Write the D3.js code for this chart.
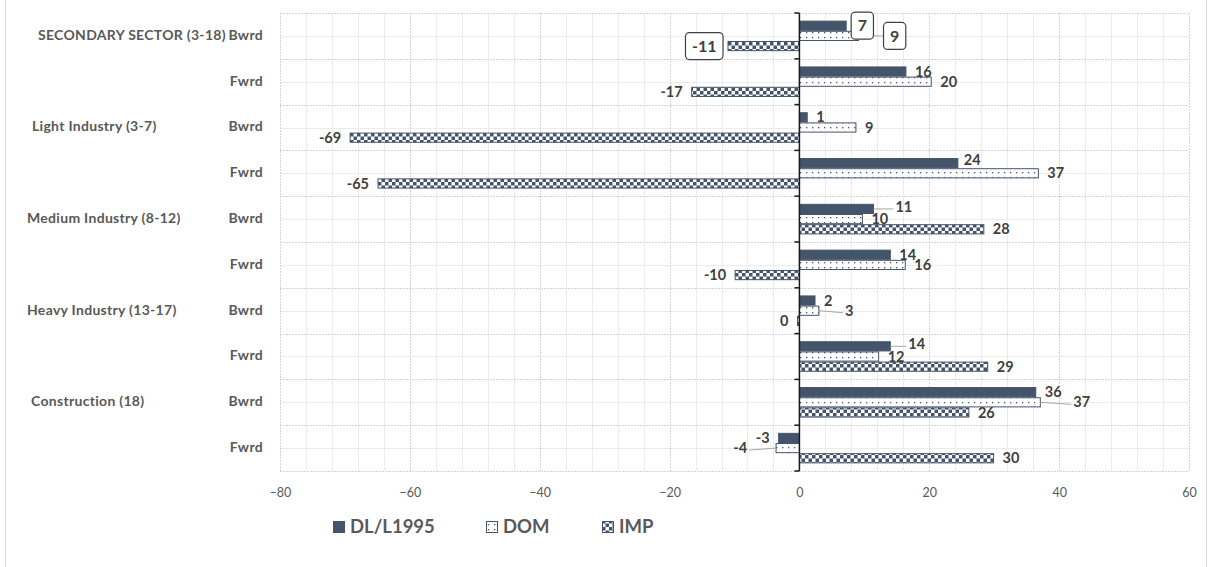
<!DOCTYPE html>
<html><head><meta charset="utf-8">
<script src="https://cdn.jsdelivr.net/npm/d3@7"></script>
<style>body{margin:0;background:#fff;} svg{display:block;font-family:Lato,'Open Sans',sans-serif;}</style>
</head><body><svg id="c" width="1208" height="567"></svg>
<script>
// ---- data ----
const groups = ["SECONDARY SECTOR (3-18)", "Light Industry (3-7)", "Medium Industry (8-12)", "Heavy Industry (13-17)", "Construction  (18)"];
const directions = ["Bwrd", "Fwrd"];
const seriesNames = ["DL/L1995", "DOM", "IMP"];
const dlValues  = [7.2, 16.4, 1.2, 24.4, 11.4, 14.0, 2.4, 14.0, 36.4, -3.2];
const domValues = [9.1, 20.3, 8.7, 36.8, 9.7, 16.3, 3.0, 12.2, 37.1, -3.6];
const impValues = [-11.0, -16.6, -69.2, -64.9, 28.4, -9.9, -0.3, 29.0, 26.1, 29.9];
const xTicks = [-80, -60, -40, -20, 0, 20, 40, 60];

// ---- layout ----
const W = 1208, H = 567;
const plot = {l: 280, r: 1189, t: 13, b: 471};
const groupLabelX = [38, 32, 27, 27, 31];
const ink = "#44546A";
const textCol = "#595959";
// label nudges keyed "row-series": [dx, dy]
const labelNudge = {"0-1": [20, 0], "3-0": [-3, -3], "4-0": [13, -2], "6-1": [17, 0], "7-0": [9, -2], "8-1": [24, 0], "9-1": [-20, 0]};

const rows = [];
groups.forEach((g, gi) => directions.forEach((d, di) => rows.push({id: gi + "-" + di, group: g, gi, dir: d, first: di === 0})));
const seriesVals = [dlValues, domValues, impValues];

const svg = d3.select("#c");
const defs = svg.append("defs");
const pd = defs.append("pattern").attr("id", "dots").attr("patternUnits", "userSpaceOnUse").attr("width", 6).attr("height", 5);
pd.append("rect").attr("width", 6).attr("height", 5).attr("fill", "#fff");
pd.append("rect").attr("x", 2).attr("y", 2).attr("width", 1.3).attr("height", 1.3).attr("fill", ink);
const pc = defs.append("pattern").attr("id", "checks").attr("patternUnits", "userSpaceOnUse").attr("width", 7).attr("height", 7);
pc.append("rect").attr("width", 7).attr("height", 7).attr("fill", "#fff");
pc.append("rect").attr("width", 3.5).attr("height", 3.5).attr("fill", ink);
pc.append("rect").attr("x", 3.5).attr("y", 3.5).attr("width", 3.5).attr("height", 3.5).attr("fill", ink);
const fills = [ink, "url(#dots)", "url(#checks)"];

svg.append("line").attr("x1", 5.5).attr("x2", 5.5).attr("y1", 0).attr("y2", H).attr("stroke", "#d9d9d9");
svg.append("line").attr("x1", 1206.5).attr("x2", 1206.5).attr("y1", 0).attr("y2", H).attr("stroke", "#d9d9d9");

const x = d3.scaleLinear().domain([-80, 60]).range([plot.l, plot.r]);
const y = d3.scaleBand().domain(rows.map(r => r.id)).range([plot.t, plot.b]);
const ys = d3.scaleBand().domain(seriesNames).range([0, y.bandwidth()]).paddingOuter(0.75);

// grid
const g = svg.append("g");
const minorX = d3.range(-80, 60.1, 4).filter(v => v % 20 !== 0);
g.selectAll(".mx").data(minorX).join("line")
  .attr("x1", d => Math.round(x(d)) + 0.5).attr("x2", d => Math.round(x(d)) + 0.5)
  .attr("y1", plot.t).attr("y2", plot.b).attr("stroke", "#ececec");
g.selectAll(".my").data(rows).join("line")
  .attr("x1", plot.l).attr("x2", plot.r)
  .attr("y1", d => Math.round(y(d.id) + y.bandwidth() / 2) + 0.5).attr("y2", d => Math.round(y(d.id) + y.bandwidth() / 2) + 0.5)
  .attr("stroke", "#ececec");
g.selectAll(".Mx").data(xTicks).join("line")
  .attr("x1", d => Math.round(x(d)) + 0.5).attr("x2", d => Math.round(x(d)) + 0.5)
  .attr("y1", plot.t).attr("y2", plot.b).attr("stroke", "#d4d4d4").attr("stroke-dasharray", "2,1");
const rowEdges = rows.map(r => y(r.id)).concat([plot.b]);
g.selectAll(".My").data(rowEdges).join("line")
  .attr("x1", plot.l).attr("x2", plot.r)
  .attr("y1", d => Math.round(d) + 0.5).attr("y2", d => Math.round(d) + 0.5)
  .attr("stroke", "#d4d4d4").attr("stroke-dasharray", "2,1");

// x axis labels
const xa = svg.append("g").attr("transform", `translate(0,${plot.b})`)
  .call(d3.axisBottom(x).tickValues(xTicks).tickSize(0).tickPadding(17).tickFormat(d3.format("d")));
xa.select(".domain").remove();
xa.selectAll("text").attr("fill", textCol).style("font-size", "12.5px").style("font-family", "Lato, sans-serif");

// bars
const bars = svg.append("g");
seriesNames.forEach((s, si) => {
  bars.selectAll(".b" + si).data(rows).join("rect")
    .attr("x", (d, i) => x(Math.min(0, seriesVals[si][i])))
    .attr("width", (d, i) => Math.abs(x(seriesVals[si][i]) - x(0)))
    .attr("y", d => y(d.id) + ys(s) + 0.5)
    .attr("height", ys.bandwidth() - 1)
    .attr("fill", fills[si]).attr("stroke", ink).attr("stroke-width", 1);
});

// y axis at zero
const ya = svg.append("g");
ya.append("line").attr("x1", x(0)).attr("x2", x(0)).attr("y1", plot.t).attr("y2", plot.b).attr("stroke", "#1a1a1a").attr("stroke-width", 1.5);
ya.selectAll(".tk").data(rowEdges).join("line")
  .attr("x1", x(0) - 5).attr("x2", x(0)).attr("y1", d => d).attr("y2", d => d).attr("stroke", "#1a1a1a").attr("stroke-width", 1.5);

// category labels
const cl = svg.append("g").attr("font-weight", "bold").attr("fill", textCol).style("font-size", "14px").style("letter-spacing", "0.3px");
cl.selectAll(".dir").data(rows).join("text")
  .attr("x", 263).attr("y", d => y(d.id) + y.bandwidth() / 2 - 1).attr("dy", "0.35em").attr("text-anchor", "end").text(d => d.dir);
cl.selectAll(".grp").data(rows.filter(r => r.first)).join("text")
  .attr("x", d => groupLabelX[d.gi]).attr("y", d => y(d.id) + y.bandwidth() / 2 - 1).attr("dy", "0.35em").text(d => d.group);

// data labels
const leaders = svg.append("g").attr("stroke", "#a6a6a6").attr("stroke-width", 1);
const lab = svg.append("g").attr("font-weight", "bold").attr("fill", "#404040").style("font-size", "14.5px");
const boxed = new Set(["0-0", "0-1", "0-2"]);
seriesNames.forEach((s, si) => {
  rows.forEach((r, i) => {
    const v = seriesVals[si][i];
    const key = i + "-" + si;
    const [ndx, ndy] = labelNudge[key] || [0, 0];
    const cy = y(r.id) + ys(s) + ys.bandwidth() / 2;
    const neg = v <= 0;
    const bx = x(v);
    const txt = String(Math.round(v));
    if (boxed.has(key)) {
      const t = lab.append("text").attr("dy", "0.35em").style("font-size", "16px").text(txt);
      const w = t.node().getComputedTextLength();
      const bw = w + 13, bh = 27;
      const cx = (neg ? bx - 5 - bw / 2 : bx + 5 + bw / 2) + ndx;
      const by = cy + ndy;
      if (Math.abs(ndx) > 8) leaders.append("line").attr("x1", bx).attr("y1", cy).attr("x2", cx - bw / 2).attr("y2", by);
      lab.append("rect").attr("x", cx - bw / 2).attr("y", by - bh / 2).attr("width", bw).attr("height", bh)
        .attr("rx", 4).attr("fill", "#fff").attr("stroke", "#404040").attr("stroke-width", 1.2);
      t.attr("x", cx).attr("y", by).attr("text-anchor", "middle").raise();
    } else {
      const tx = (neg ? bx - 9 : bx + 9) + ndx;
      const ty = cy + ndy;
      if (Math.abs(ndx) > 8) {
        leaders.append("line").attr("x1", bx).attr("y1", cy).attr("x2", neg ? tx + 2 : tx - 2).attr("y2", ty + 2);
      }
      lab.append("text").attr("x", tx).attr("y", ty).attr("dy", "0.35em")
        .attr("text-anchor", neg ? "end" : "start").text(txt);
    }
  });
});

// legend
const legend = svg.append("g").attr("transform", "translate(333,527)");
const legX = [0, 153, 269];
seriesNames.forEach((s, si) => {
  const lg = legend.append("g").attr("transform", `translate(${legX[si]},0)`);
  lg.append("rect").attr("x", 0.5).attr("y", -5.5).attr("width", 11).attr("height", 11).attr("fill", fills[si]).attr("stroke", ink);
  lg.append("text").attr("x", 17).attr("y", 0).attr("dy", "0.35em").attr("font-weight", "bold").attr("fill", textCol)
    .style("font-size", "18.5px").text(s);
});
</script></body></html>
